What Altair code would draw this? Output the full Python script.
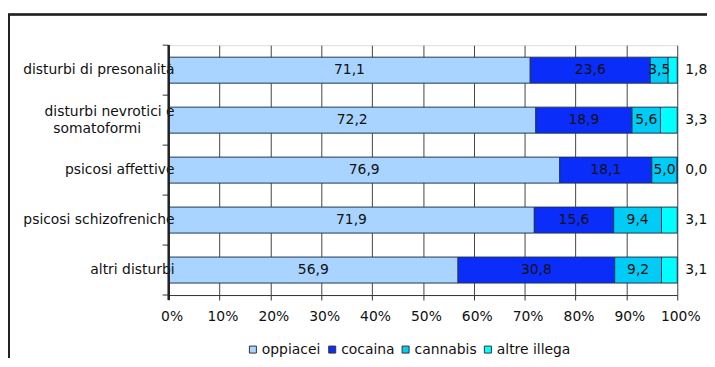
import altair as alt
import pandas as pd

categories = ["disturbi di presonalità", "disturbi nevrotici e somatoformi",
              "psicosi affettive", "psicosi schizofreniche", "altri disturbi"]
label_line1 = ["disturbi di presonalità", "disturbi nevrotici e",
               "psicosi affettive", "psicosi schizofreniche", "altri disturbi"]
label_line2 = ["", "somatoformi", "", "", ""]
series = ["oppiacei", "cocaina", "cannabis", "altre  illega"]
oppiacei = [71.1, 72.2, 76.9, 71.9, 56.9]
cocaina = [23.6, 18.9, 18.1, 15.6, 30.8]
cannabis = [3.5, 5.6, 5.0, 9.4, 9.2]
altre = [1.8, 3.3, 0.0, 3.1, 3.1]
colors = ["#A9D4FF", "#0A2DFA", "#00CCF5", "#00FFFF"]
x_ticks = [0, 10, 20, 30, 40, 50, 60, 70, 80, 90, 100]

rows = []
for i, c in enumerate(categories):
    start = 0.0
    for j, (s, vals) in enumerate(zip(series, [oppiacei, cocaina, cannabis, altre])):
        v = vals[i]
        rows.append({"cat": c, "serie": s, "order": j, "v": v,
                     "x0": start, "x1": start + v,
                     "mid": start + v / 2,
                     "lab": f"{v:.1f}".replace(".", ","),
                     "outside": j == 3})
        start += v
df = pd.DataFrame(rows)

labs = pd.DataFrame({"cat": categories, "l1": label_line1, "l2": label_line2})
labs["two"] = labs["l2"] != ""

FONT = "DejaVu Sans"

ycat = alt.Y("cat:N", sort=categories, title=None,
             scale=alt.Scale(paddingInner=0.48, paddingOuter=0.24),
             axis=None)

xq = alt.X("x0:Q", title=None,
           scale=alt.Scale(domain=[0, 100], nice=False),
           axis=alt.Axis(values=x_ticks, labelExpr="datum.value + '%'",
                         grid=True, gridColor="#444", gridWidth=1,
                         domainColor="#333", tickColor="#333", tickSize=5,
                         labelFlush=False, labelOffset=3,
                         labelFont=FONT, labelFontSize=14, labelColor="#111",
                         labelPadding=10))

bars = alt.Chart(df).mark_bar(stroke="#22364f", strokeWidth=1).encode(
    y=ycat,
    x=xq,
    x2="x1:Q",
    color=alt.Color("serie:N", sort=series,
                    scale=alt.Scale(domain=series, range=colors),
                    legend=alt.Legend(title=None, orient="none", direction="horizontal",
                                      legendX=78, legendY=300,
                                      symbolType="square", symbolSize=50,
                                      symbolStrokeColor="#333", symbolStrokeWidth=1,
                                      labelFont=FONT, labelFontSize=14,
                                      labelColor="#111", labelOffset=2,
                                      gridAlign="none", columnPadding=4)),
    order="order:Q",
)

inside = alt.Chart(df[~df["outside"]]).mark_text(font=FONT, fontSize=14, color="#111").encode(
    y=alt.Y("cat:N", sort=categories),
    x=alt.X("mid:Q"),
    text="lab:N",
)

outside_df = df[df["outside"]].assign(xe=100.0)
outside = alt.Chart(outside_df).mark_text(font=FONT, fontSize=14, color="#111",
                                          align="left", dx=8).encode(
    y=alt.Y("cat:N", sort=categories),
    x=alt.X("xe:Q"),
    text="lab:N",
)

ylab_single = alt.Chart(labs[~labs["two"]]).mark_text(
    font=FONT, fontSize=14, color="#111", align="right").encode(
    y=alt.Y("cat:N", sort=categories), x=alt.value(6), text="l1:N")
ylab_first = alt.Chart(labs[labs["two"]]).mark_text(
    font=FONT, fontSize=14, color="#111", align="right", dy=-8).encode(
    y=alt.Y("cat:N", sort=categories), x=alt.value(6), text="l1:N")
ylab_second = alt.Chart(labs[labs["two"]]).mark_text(
    font=FONT, fontSize=14, color="#111", align="center", dy=9).encode(
    y=alt.Y("cat:N", sort=categories), x=alt.value(-72), text="l2:N")

main = alt.layer(bars, inside, outside, ylab_single, ylab_first, ylab_second)

bounds = pd.DataFrame({"b": [0, 1, 2, 3, 4, 5]})
yticks = alt.Chart(bounds).mark_rule(color="#333", strokeWidth=1).encode(
    y=alt.Y("b:Q", scale=alt.Scale(domain=[0, 5], nice=False), axis=None),
    x=alt.value(-6), x2=alt.value(0),
)
yline = alt.Chart(bounds).mark_rule(color="#222", strokeWidth=1.5).encode(
    x=alt.value(0), y=alt.value(0), y2=alt.value(257),
)
frame_v = alt.Chart(bounds).mark_rule(color="#222", strokeWidth=2).encode(
    x=alt.value(-161), y=alt.value(-31), y2=alt.value(400),
)
frame_h = alt.Chart(bounds).mark_rule(color="#222", strokeWidth=1.5).encode(
    y=alt.value(-31), x=alt.value(-162), x2=alt.value(700),
)

chart = alt.layer(main, yticks, yline, frame_v, frame_h).resolve_scale(
    y="independent"
).properties(
    width=513, height=252,
    autosize=alt.AutoSizeParams(type="none"),
    padding={"left": 162, "top": 36, "right": 30, "bottom": 62},
).configure_view(stroke="#999", strokeWidth=1).configure(background="white")

chart.save("out.html", embed_options={"renderer": "svg", "actions": False})
